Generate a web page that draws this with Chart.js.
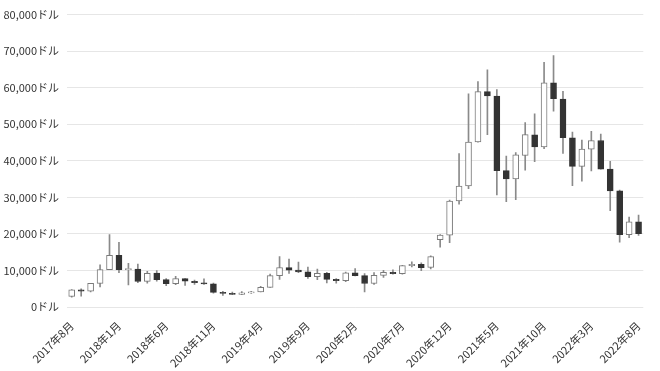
<!DOCTYPE html>
<html>
<head>
<meta charset="utf-8">
<script src="https://cdn.jsdelivr.net/npm/chart.js@4"></script>
<style>
  html,body{margin:0;padding:0;background:#fff;}
  #wrap{width:660px;height:371px;}
</style>
</head>
<body>
<div id="wrap"><canvas id="btcChart"></canvas></div>
<script>
/* monthly candles, 2017年8月 .. 2022年8月 */
const months = ['2017年8月','2017年9月','2017年10月','2017年11月','2017年12月',
  '2018年1月','2018年2月','2018年3月','2018年4月','2018年5月','2018年6月','2018年7月','2018年8月','2018年9月','2018年10月','2018年11月','2018年12月',
  '2019年1月','2019年2月','2019年3月','2019年4月','2019年5月','2019年6月','2019年7月','2019年8月','2019年9月','2019年10月','2019年11月','2019年12月',
  '2020年1月','2020年2月','2020年3月','2020年4月','2020年5月','2020年6月','2020年7月','2020年8月','2020年9月','2020年10月','2020年11月','2020年12月',
  '2021年1月','2021年2月','2021年3月','2021年4月','2021年5月','2021年6月','2021年7月','2021年8月','2021年9月','2021年10月','2021年11月','2021年12月',
  '2022年1月','2022年2月','2022年3月','2022年4月','2022年5月','2022年6月','2022年7月','2022年8月'];

const opens  = [2871,4701,4341,6440,10198, 14112,10237,10385,7003,9251,7500,6411,7769,7044,6619,6318,4024,
  3746,3460,3853,4106,5350,8573,10796,10077,9630,8299,9194,7571,
  7194,9346,8600,6437,8672,9463,9145,11322,11679,10795,18400,19633,
  28994,33115,45159,58926,57714,37293,35035,41461,47100,43816,61320,56907,
  46311,38481,43194,45554,37714,31792,19820,23336];
const highs  = [4736,4975,6470,11517,19783, 17712,11958,11711,9745,9964,7754,8424,7769,7388,7680,6552,4309,
  4109,4210,4296,5642,9008,13796,13130,12273,10898,10370,9506,7743,
  9553,10500,9167,9400,10067,10199,11435,12359,12067,14029,19800,29244,
  41946,58330,61683,64863,59519,41295,42235,50482,52853,66930,68790,59041,
  47827,45661,48086,47313,39845,31957,24572,25135];
const lows   = [2671,2972,4122,5519,10198, 9402,6048,6675,6526,7090,5826,6111,5880,6170,6174,3793,3191,
  3401,3400,3707,4097,5332,7565,9163,9421,7830,7446,6618,6540,
  6915,8470,4106,6202,8117,8975,8977,10999,9916,10416,16400,17619,
  28130,32384,45115,47159,30681,28805,29360,37458,39787,43321,53569,42000,
  33184,34459,37260,37697,26350,17708,18966,19600];
const closes = [4703,4338,6468,10233,14156, 10221,10397,6973,9240,7494,6404,7780,7037,6625,6318,4017,3743,
  3457,3855,4105,5351,8574,10817,10085,9631,8294,9199,7569,7194,
  9350,8599,6438,8658,9461,9137,11323,11681,10784,13781,19700,29002,
  33114,45137,58918,57750,37332,35040,41626,47167,43791,61318,57006,46306,
  38483,43193,45538,37715,31793,19785,23336,20050];

const yTicks = [0,10000,20000,30000,40000,50000,60000,70000,80000];

(function(){
  const up = closes.map((c,i)=> c >= opens[i]);
  const bodies = opens.map((o,i)=> [o, closes[i]]);
  const wicks = lows.map((l,i)=> [l, highs[i]]);
  const font = { family:'"Noto Sans CJK JP", "Noto Sans", sans-serif', size:11 };

  const ctx = document.getElementById('btcChart').getContext('2d');
  new Chart(ctx, {
    type:'bar',
    data:{ labels:months, datasets:[
      { label:'body', data:bodies, order:1, grouped:false, barThickness:6, minBarLength:1,
        backgroundColor: up.map(u=> u ? '#ffffff' : '#333333'),
        borderColor: up.map(u=> u ? '#7a7a7a' : '#333333'),
        borderWidth:1, borderSkipped:false },
      { label:'wick', data:wicks, order:2, grouped:false, barThickness:1,
        backgroundColor:'#8a8a8a', borderWidth:0 }
    ]},
    options:{
      responsive:true, maintainAspectRatio:false, animation:false,
      layout:{ padding:{ top:12, right:13, left:0, bottom:0 } },
      plugins:{ legend:{display:false}, tooltip:{enabled:false} },
      scales:{
        x:{ offset:true,
          grid:{ display:false, drawTicks:false }, border:{ display:false },
          ticks:{ autoSkip:false, minRotation:45, maxRotation:45, padding:12, color:'#333', font:font,
            callback:(v,i)=> i%5===0 ? months[i] : '' },
          afterFit:s=>{ s.height = 64; } },
        y:{ min:0, max:80000,
          afterBuildTicks:s=>{ s.ticks = yTicks.map(v=>({value:v})); },
          grid:{ color:'#e6e6e6', drawTicks:false }, border:{ display:false },
          ticks:{ padding:8, color:'#333', font:font,
            callback:v=> v.toLocaleString('en-US') + 'ドル' },
          afterFit:s=>{ s.width = 67; } }
      }
    }
  });
})();
</script>
</body>
</html>
